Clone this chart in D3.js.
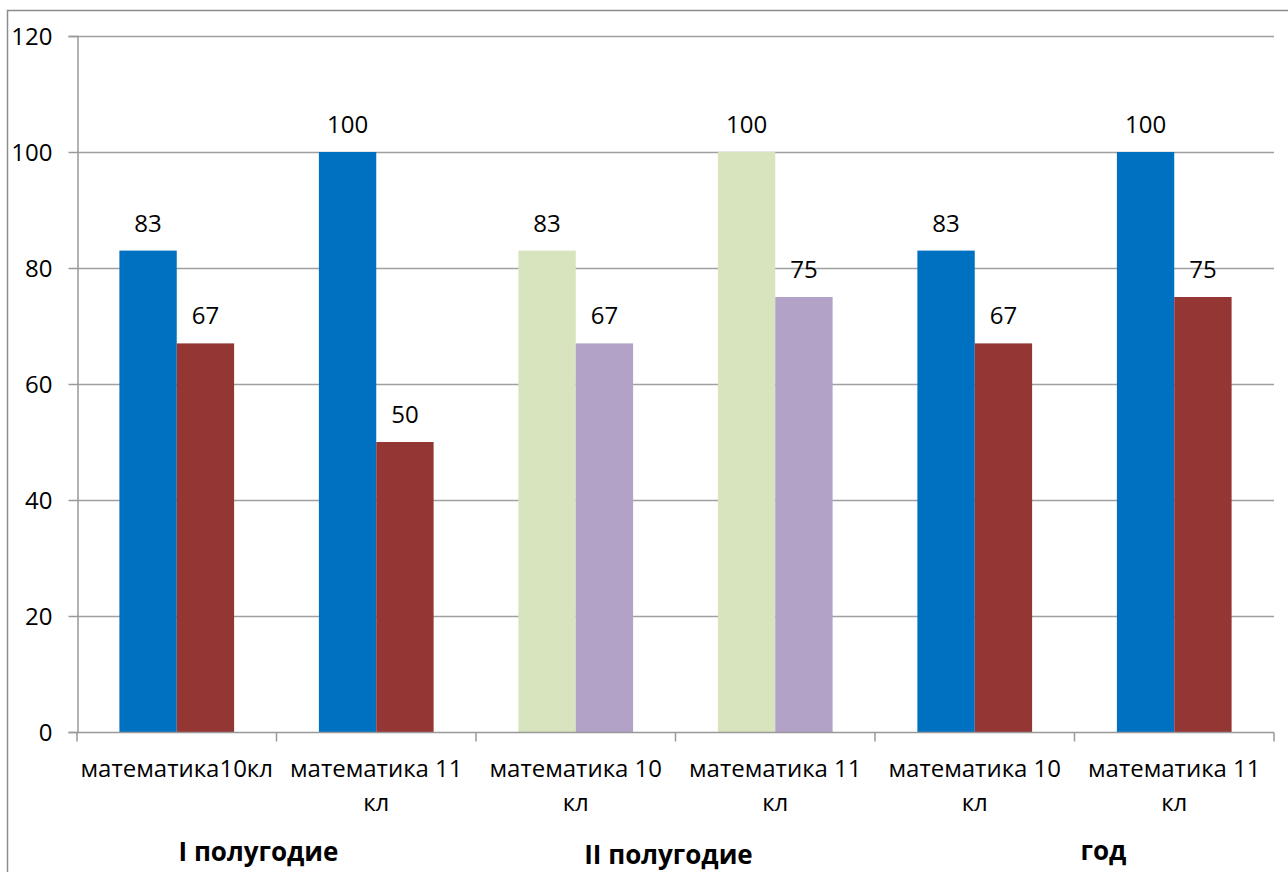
<!DOCTYPE html>
<html><head><meta charset="utf-8">
<script src="https://cdn.jsdelivr.net/npm/d3@7"></script>
<style>body{margin:0;background:#fff}svg{display:block}text{font-family:"Open Sans",sans-serif}</style>
</head><body><svg id="c" width="1288" height="872"></svg>
<script>
const categories = [["математика10кл"],["математика 11","кл"],["математика 10","кл"],["математика 11","кл"],["математика 10","кл"],["математика 11","кл"]];
const seriesA = [83,100,83,100,83,100];
const seriesB = [67,50,67,75,67,75];
const colorsA = ["#0070C0","#0070C0","#D7E4BD","#D7E4BD","#0070C0","#0070C0"];
const colorsB = ["#943634","#943634","#B3A2C7","#B3A2C7","#943634","#943634"];
const yTicks = [0,20,40,60,80,100,120];
const groups = [{label:"I полугодие", from:0, to:2, dx:-18, dy:861},{label:"II  полугодие", from:2, to:4, dx:-7, dy:864},{label:"год", from:4, to:6, dx:29, dy:860}];

(function(){
const svg = d3.select("#c");
svg.append("rect").attr("x",7.5).attr("y",10.5).attr("width",1300).attr("height",900).attr("fill","none").attr("stroke","#8c8c8c").attr("stroke-width",1.5);

const pLeft=77, pRight=1274, pTop=36, pBottom=732;
const x = d3.scaleBand().domain(d3.range(6)).range([pLeft,pRight]);
const y = d3.scaleLinear().domain([0,120]).range([pBottom,pTop]);
const bw = x.bandwidth()*0.2875;
const off = (x.bandwidth()-2*bw)/2;

svg.append("g").selectAll("line").data(yTicks.filter(d=>d>0)).join("line")
  .attr("x1",pLeft).attr("x2",pRight).attr("y1",d=>y(d)+0.5).attr("y2",d=>y(d)+0.5)
  .attr("stroke","#a0a0a0").attr("stroke-width",1.5);

const ya = svg.append("g").attr("transform",`translate(${pLeft+0.5},0)`)
  .call(d3.axisLeft(y).tickValues(yTicks).tickSize(9).tickPadding(16));
ya.select(".domain").attr("stroke","#999").attr("stroke-width",1.5);
ya.selectAll(".tick line").attr("stroke","#999").attr("stroke-width",1.5);
ya.selectAll(".tick text").attr("font-size",24).attr("fill","#000").attr("font-family","Open Sans").attr("dy","0.35em");

const g = svg.append("g");
g.selectAll(".a").data(seriesA).join("rect").attr("class","a").attr("x",(d,i)=>x(i)+off).attr("y",d=>y(d)).attr("width",bw).attr("height",d=>pBottom-y(d)).attr("fill",(d,i)=>colorsA[i]);
g.selectAll(".b").data(seriesB).join("rect").attr("class","b").attr("x",(d,i)=>x(i)+off+bw).attr("y",d=>y(d)).attr("width",bw).attr("height",d=>pBottom-y(d)).attr("fill",(d,i)=>colorsB[i]);

const xa = svg.append("g").attr("transform",`translate(0,${pBottom+0.5})`);
xa.append("line").attr("x1",pLeft).attr("x2",pRight).attr("stroke","#999").attr("stroke-width",1.5);
xa.selectAll(".t").data(d3.range(7)).join("line").attr("class","t").attr("x1",i=>pLeft+i*x.step()).attr("x2",i=>pLeft+i*x.step()).attr("y1",0).attr("y2",9).attr("stroke","#999").attr("stroke-width",1.5);

const lbl = svg.append("g").attr("font-size",24).attr("fill","#000").attr("text-anchor","middle");
lbl.selectAll(".la").data(seriesA).join("text").attr("class","la").attr("x",(d,i)=>x(i)+off+bw/2).attr("y",d=>y(d)-19).text(d=>d);
lbl.selectAll(".lb").data(seriesB).join("text").attr("class","lb").attr("x",(d,i)=>x(i)+off+bw*1.5).attr("y",d=>y(d)-19).text(d=>d);

const cl = svg.append("g").attr("font-size",24).attr("fill","#000").attr("text-anchor","middle");
categories.forEach((lines,i)=>{
  lines.forEach((t,j)=>{
    cl.append("text").attr("x",x(i)+x.bandwidth()/2).attr("y",777+j*34).text(t);
  });
});

const gl = svg.append("g").attr("font-size",26).attr("font-weight","bold").attr("fill","#000").attr("text-anchor","middle");
groups.forEach(gr=>{
  const cx = (x(gr.from)+x(gr.to-1)+x.bandwidth())/2;
  gl.append("text").attr("x",cx+gr.dx).attr("y",gr.dy).text(gr.label);
});
})();
</script></body></html>
